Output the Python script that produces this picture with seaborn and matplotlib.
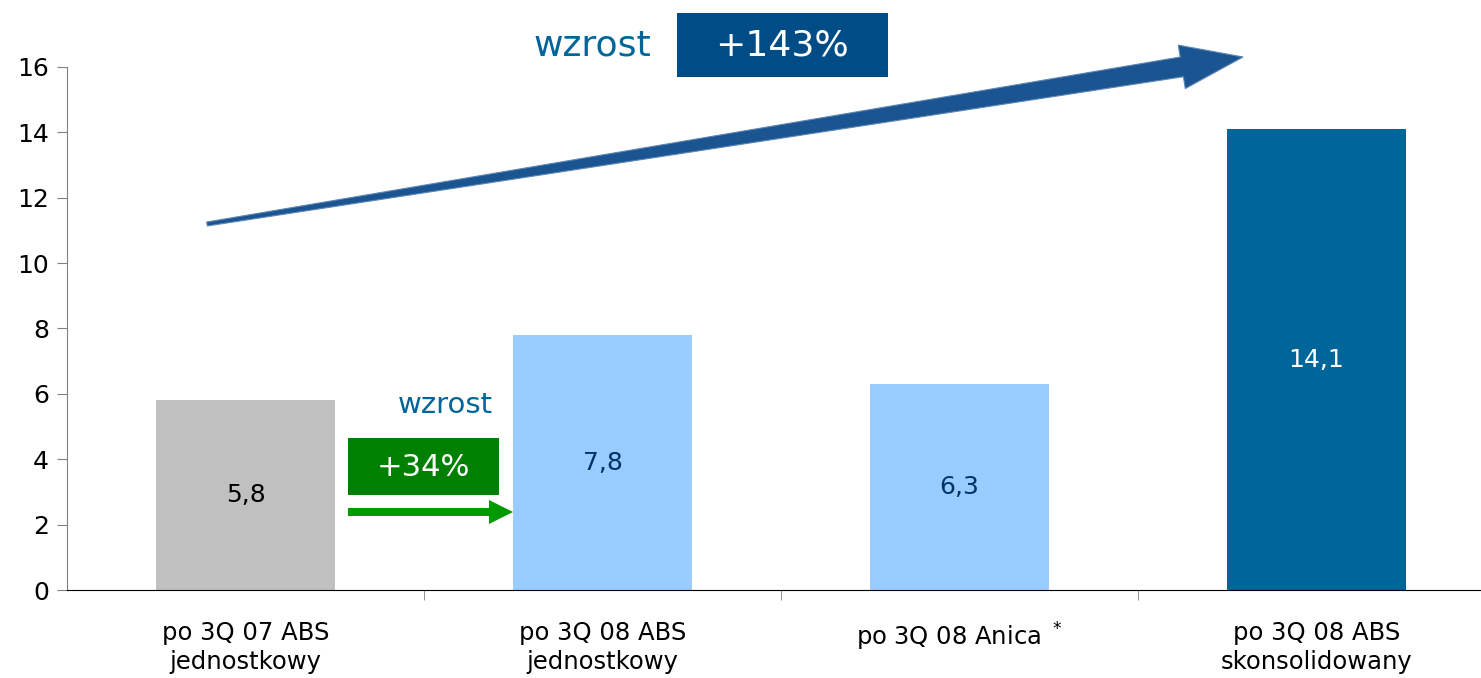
import numpy as np
import pandas as pd
import matplotlib
matplotlib.use('Agg')
import matplotlib.pyplot as plt
import seaborn as sns
from matplotlib.patches import Polygon, Rectangle, FancyArrow

categories = ['po 3Q 07 ABS\njednostkowy', 'po 3Q 08 ABS\njednostkowy',
              'po 3Q 08 Anica $^*$', 'po 3Q 08 ABS\nskonsolidowany']
values = [5.8, 7.8, 6.3, 14.1]
value_labels = ['5,8', '7,8', '6,3', '14,1']
bar_colors = ['#C0C0C0', '#99CCFF', '#99CCFF', '#006699']
label_colors = ['#000000', '#003366', '#003366', '#FFFFFF']
yticks = [0, 2, 4, 6, 8, 10, 12, 14, 16]

sns.set_style('white')
plt.rcParams['font.family'] = ['DejaVu Sans']

W, H = 1481, 678
fig = plt.figure(figsize=(W / 100, H / 100), dpi=100)
ax = fig.add_axes([67 / W, 1 - 590 / H, 1428 / W, 523 / H])

df = pd.DataFrame({'kat': categories, 'wartosc': values})
sns.barplot(data=df, x='kat', y='wartosc', hue='kat', palette=bar_colors,
            width=0.5, legend=False, ax=ax, saturation=1, linewidth=0)

for i, (v, lab, c) in enumerate(zip(values, value_labels, label_colors)):
    ax.text(i, v / 2, lab, ha='center', va='center', fontsize=18, color=c)

ax.set_xlim(-0.5, 3.5)
ax.set_ylim(0, 16)
ax.set_yticks(yticks)
ax.set_xlabel('')
ax.set_ylabel('')
for s in ['top', 'right']:
    ax.spines[s].set_visible(False)
ax.spines['left'].set_color('#808080')
ax.spines['bottom'].set_color('#000000')
ax.tick_params(axis='y', direction='out', length=7, color='#808080', labelsize=18,
               pad=6, left=True, labelcolor='black')
ax.tick_params(axis='x', which='major', length=0, labelsize=17.5, pad=22, labelcolor='black')
for t in ax.get_xticklabels():
    t.set_linespacing(1.3)
ax.set_xticks([0.5, 1.5, 2.5], minor=True)
ax.tick_params(axis='x', which='minor', direction='out', length=7, color='#808080', bottom=True)

# figure-pixel helper
def fp(x, y):
    return (x / W, 1 - y / H)

# big tapered arrow
S = np.array([207.0, 224.0])
T = np.array([1243.0, 57.0])
d = T - S
L = np.hypot(*d)
u = d / L
n = np.array([u[1], -u[0]])
head_len, w0, w1, hw = 62, 2.0, 10.0, 22.0
B = S + u * (L - head_len)
pts = [S + n * w0, B + n * w1, B + n * hw, T, B - n * hw, B - n * w1, S - n * w0]
arrow = Polygon([fp(*p) for p in pts], closed=True, transform=fig.transFigure,
                facecolor='#1A5592', edgecolor='#5F86B3', linewidth=0.8)
fig.patches.append(arrow)

# +143% box
fig.patches.append(Rectangle(fp(677, 77), 211 / W, 64 / H, transform=fig.transFigure,
                             facecolor='#004C87', edgecolor='none'))
fig.text(*fp(782, 46), '+143%', ha='center', va='center', fontsize=26, color='white')
fig.text(*fp(592, 46), 'wzrost', ha='center', va='center', fontsize=26, color='#006699')

# +34% box and green arrow
fig.patches.append(Rectangle(fp(348, 495), 151 / W, 57 / H, transform=fig.transFigure,
                             facecolor='#008000', edgecolor='none'))
fig.text(*fp(423, 467), '+34%', ha='center', va='center', fontsize=22, color='white')
fig.text(*fp(445, 405), 'wzrost', ha='center', va='center', fontsize=21, color='#006699')
ga = fp(348, 512)
fig.patches.append(FancyArrow(ga[0], ga[1], (513 - 348) / W, 0, width=8 / H,
                              head_width=24 / H, head_length=24 / W,
                              length_includes_head=True, transform=fig.transFigure,
                              facecolor='#009900', edgecolor='none'))

fig.savefig('out.png', dpi=100)
